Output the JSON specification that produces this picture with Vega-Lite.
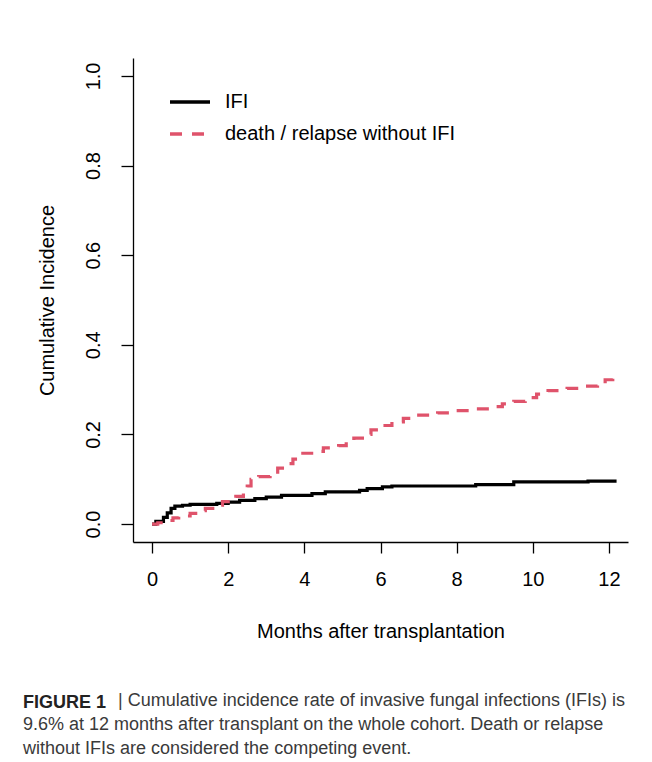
{
  "$schema": "https://vega.github.io/schema/vega-lite/v6.json",
  "width": 495,
  "height": 484,
  "autosize": {"type": "none"},
  "padding": {"left": 133, "top": 58, "right": 24, "bottom": 220},
  "background": "white",
  "title": {
    "text": "FIGURE 1",
    "subtitle": [
      "\u200b\u00a0\u00a0\u00a0\u00a0\u00a0\u00a0\u00a0\u00a0\u00a0\u00a0\u00a0\u00a0\u00a0\u00a0\u00a0\u00a0\u00a0\u00a0\u00a0| Cumulative incidence rate of invasive fungal infections (IFIs) is",
      "9.6% at 12 months after transplant on the whole cohort. Death or relapse",
      "without IFIs are considered the competing event."
    ],
    "orient": "bottom",
    "anchor": "start",
    "frame": "bounds",
    "offset": 53,
    "dx": -14,
    "font": "Liberation Sans",
    "fontSize": 18,
    "fontWeight": "bold",
    "color": "#222222",
    "subtitleFont": "Liberation Sans",
    "subtitleFontSize": 18,
    "subtitleColor": "#3a3a3a",
    "subtitleLineHeight": 24,
    "subtitlePadding": -20
  },
  "datasets": {
    "curves": [
      {"month": 0, "cif": 0, "event": "IFI"},
      {"month": 0.1, "cif": 0.006, "event": "IFI"},
      {"month": 0.3, "cif": 0.015, "event": "IFI"},
      {"month": 0.4, "cif": 0.025, "event": "IFI"},
      {"month": 0.5, "cif": 0.035, "event": "IFI"},
      {"month": 0.6, "cif": 0.04, "event": "IFI"},
      {"month": 0.8, "cif": 0.042, "event": "IFI"},
      {"month": 1.0, "cif": 0.044, "event": "IFI"},
      {"month": 1.7, "cif": 0.046, "event": "IFI"},
      {"month": 2.0, "cif": 0.049, "event": "IFI"},
      {"month": 2.3, "cif": 0.053, "event": "IFI"},
      {"month": 2.7, "cif": 0.057, "event": "IFI"},
      {"month": 3.0, "cif": 0.06, "event": "IFI"},
      {"month": 3.4, "cif": 0.064, "event": "IFI"},
      {"month": 4.2, "cif": 0.068, "event": "IFI"},
      {"month": 4.55, "cif": 0.072, "event": "IFI"},
      {"month": 5.45, "cif": 0.075, "event": "IFI"},
      {"month": 5.65, "cif": 0.079, "event": "IFI"},
      {"month": 6.05, "cif": 0.083, "event": "IFI"},
      {"month": 6.3, "cif": 0.085, "event": "IFI"},
      {"month": 8.5, "cif": 0.088, "event": "IFI"},
      {"month": 9.5, "cif": 0.094, "event": "IFI"},
      {"month": 11.45, "cif": 0.096, "event": "IFI"},
      {"month": 12.2, "cif": 0.096, "event": "IFI"},
      {"month": 0, "cif": 0, "event": "death / relapse without IFI"},
      {"month": 0.15, "cif": 0.003, "event": "death / relapse without IFI"},
      {"month": 0.3, "cif": 0.008, "event": "death / relapse without IFI"},
      {"month": 0.55, "cif": 0.014, "event": "death / relapse without IFI"},
      {"month": 0.7, "cif": 0.018, "event": "death / relapse without IFI"},
      {"month": 1.0, "cif": 0.024, "event": "death / relapse without IFI"},
      {"month": 1.2, "cif": 0.03, "event": "death / relapse without IFI"},
      {"month": 1.4, "cif": 0.035, "event": "death / relapse without IFI"},
      {"month": 1.7, "cif": 0.042, "event": "death / relapse without IFI"},
      {"month": 1.85, "cif": 0.05, "event": "death / relapse without IFI"},
      {"month": 2.0, "cif": 0.057, "event": "death / relapse without IFI"},
      {"month": 2.2, "cif": 0.062, "event": "death / relapse without IFI"},
      {"month": 2.4, "cif": 0.072, "event": "death / relapse without IFI"},
      {"month": 2.5, "cif": 0.085, "event": "death / relapse without IFI"},
      {"month": 2.6, "cif": 0.1, "event": "death / relapse without IFI"},
      {"month": 2.8, "cif": 0.106, "event": "death / relapse without IFI"},
      {"month": 3.1, "cif": 0.112, "event": "death / relapse without IFI"},
      {"month": 3.3, "cif": 0.125, "event": "death / relapse without IFI"},
      {"month": 3.5, "cif": 0.135, "event": "death / relapse without IFI"},
      {"month": 3.7, "cif": 0.145, "event": "death / relapse without IFI"},
      {"month": 3.9, "cif": 0.158, "event": "death / relapse without IFI"},
      {"month": 4.3, "cif": 0.162, "event": "death / relapse without IFI"},
      {"month": 4.5, "cif": 0.17, "event": "death / relapse without IFI"},
      {"month": 4.9, "cif": 0.175, "event": "death / relapse without IFI"},
      {"month": 5.1, "cif": 0.185, "event": "death / relapse without IFI"},
      {"month": 5.3, "cif": 0.192, "event": "death / relapse without IFI"},
      {"month": 5.6, "cif": 0.2, "event": "death / relapse without IFI"},
      {"month": 5.75, "cif": 0.21, "event": "death / relapse without IFI"},
      {"month": 6.0, "cif": 0.22, "event": "death / relapse without IFI"},
      {"month": 6.3, "cif": 0.228, "event": "death / relapse without IFI"},
      {"month": 6.6, "cif": 0.236, "event": "death / relapse without IFI"},
      {"month": 6.9, "cif": 0.243, "event": "death / relapse without IFI"},
      {"month": 7.5, "cif": 0.248, "event": "death / relapse without IFI"},
      {"month": 7.8, "cif": 0.253, "event": "death / relapse without IFI"},
      {"month": 8.5, "cif": 0.257, "event": "death / relapse without IFI"},
      {"month": 8.9, "cif": 0.262, "event": "death / relapse without IFI"},
      {"month": 9.2, "cif": 0.268, "event": "death / relapse without IFI"},
      {"month": 9.5, "cif": 0.274, "event": "death / relapse without IFI"},
      {"month": 9.8, "cif": 0.282, "event": "death / relapse without IFI"},
      {"month": 10.1, "cif": 0.29, "event": "death / relapse without IFI"},
      {"month": 10.4, "cif": 0.298, "event": "death / relapse without IFI"},
      {"month": 10.9, "cif": 0.303, "event": "death / relapse without IFI"},
      {"month": 11.2, "cif": 0.308, "event": "death / relapse without IFI"},
      {"month": 11.7, "cif": 0.312, "event": "death / relapse without IFI"},
      {"month": 11.9, "cif": 0.322, "event": "death / relapse without IFI"},
      {"month": 12.1, "cif": 0.328, "event": "death / relapse without IFI"},
      {"month": 12.2, "cif": 0.328, "event": "death / relapse without IFI"}
    ]
  },
  "data": {"name": "curves"},
  "mark": {"type": "line", "interpolate": "step-after", "strokeWidth": 3.2, "strokeCap": "butt"},
  "encoding": {
    "x": {
      "field": "month",
      "type": "quantitative",
      "scale": {"domain": [-0.5, 12.5], "nice": false, "zero": false},
      "axis": {
        "values": [0, 2, 4, 6, 8, 10, 12],
        "title": "Months after transplantation",
        "grid": false,
        "domainColor": "black",
        "domainWidth": 1.3,
        "tickColor": "black",
        "tickWidth": 1.3,
        "tickSize": 11,
        "labelFont": "Liberation Sans",
        "labelFontSize": 20,
        "labelColor": "black",
        "labelPadding": 16,
        "titleFont": "Liberation Sans",
        "titleFontSize": 20,
        "titleFontWeight": "normal",
        "titleColor": "black",
        "titlePadding": 32
      }
    },
    "y": {
      "field": "cif",
      "type": "quantitative",
      "scale": {"domain": [-0.04, 1.04], "nice": false, "zero": false},
      "axis": {
        "values": [0, 0.2, 0.4, 0.6, 0.8, 1.0],
        "format": ".1f",
        "title": "Cumulative Incidence",
        "grid": false,
        "domainColor": "black",
        "domainWidth": 1.3,
        "tickColor": "black",
        "tickWidth": 1.3,
        "tickSize": 12,
        "labelFont": "Liberation Sans",
        "labelFontSize": 20,
        "labelColor": "black",
        "labelAngle": -90,
        "labelAlign": "center",
        "labelBaseline": "bottom",
        "labelPadding": 18,
        "titleFont": "Liberation Sans",
        "titleFontSize": 20,
        "titleFontWeight": "normal",
        "titleColor": "black",
        "titlePadding": 26
      }
    },
    "color": {
      "field": "event",
      "type": "nominal",
      "scale": {"domain": ["IFI", "death / relapse without IFI"], "range": ["#000000", "#DF536B"]},
      "legend": {
        "title": null,
        "orient": "none",
        "legendX": 35,
        "legendY": 22,
        "padding": 0,
        "symbolType": "stroke",
        "symbolSize": 1600,
        "symbolStrokeWidth": 3.5,
        "labelFont": "Liberation Sans",
        "labelFontSize": 20,
        "labelColor": "black",
        "labelOffset": 13,
        "labelLimit": 400,
        "rowPadding": -18
      }
    },
    "strokeDash": {
      "field": "event",
      "type": "nominal",
      "scale": {"domain": ["IFI", "death / relapse without IFI"], "range": [[1, 0], [12, 10]]},
      "legend": {
        "title": null,
        "orient": "none",
        "legendX": 35,
        "legendY": 22,
        "padding": 0,
        "symbolType": "stroke",
        "symbolSize": 1600,
        "symbolStrokeWidth": 3.5,
        "labelFont": "Liberation Sans",
        "labelFontSize": 20,
        "labelColor": "black",
        "labelOffset": 13,
        "labelLimit": 400,
        "rowPadding": -18
      }
    }
  },
  "config": {"view": {"stroke": null}}
}
